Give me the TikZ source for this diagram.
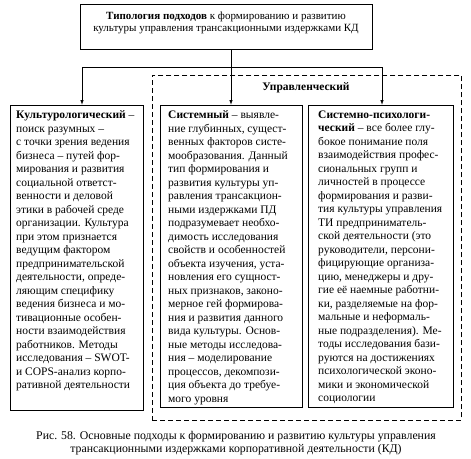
\documentclass[tikz,border=0pt]{standalone}
\usepackage{fontspec}
\setmainfont{Liberation Serif}
\usetikzlibrary{arrows.meta}
\begin{document}
\begin{tikzpicture}[x=1pt,y=-1pt,
  boxst/.style={draw, line width=0.8pt, inner sep=0pt, anchor=north west},
  txt/.style={inner sep=0pt, anchor=north west, align=left, font=\fontsize{11.5}{13.5}\selectfont},
  arr/.style={line width=0.8pt, -{Latex[length=5pt,width=3.5pt]}},
  conn/.style={line width=0.8pt},
  frame/.style={draw, line width=0.8pt, dash pattern=on 5pt off 3pt, inner sep=0pt, anchor=north west}]
\useasboundingbox (0,0) rectangle (471,458);
% boxes
\node[boxst, minimum width=292pt, minimum height=45pt] (top) at (80,4) {};
\node[frame, minimum width=309pt, minimum height=345pt] (mgmt) at (152,75) {};
\node[boxst, minimum width=133pt, minimum height=305pt] (lbox) at (9.5,105) {};
\node[boxst, minimum width=142pt, minimum height=302pt] (mbox) at (160,105) {};
\node[boxst, minimum width=145pt, minimum height=302pt] (rbox) at (308,105) {};
% texts
\node[align=center, inner sep=0pt, font=\fontsize{11}{12}\selectfont] (toptext) at (226,22.5)
  {\textbf{Типология подходов} к формированию и развитию\\культуры управления трансакционными издержками КД};
\node[inner sep=0pt, font=\bfseries\fontsize{11.5}{13}\selectfont] (mgmtlabel) at (306,88) {Управленческий};
\node[txt] (ltext) at (16,110.5) {\textbf{Культурологический} –\\
поиск разумных –\\
с точки зрения ведения\\
бизнеса – путей фор-\\
мирования и развития\\
социальной ответст-\\
венности и деловой\\
этики в рабочей среде\\
организации. Культура\\
при этом признается\\
ведущим фактором\\
предпринимательской\\
деятельности, опреде-\\
ляющим специфику\\
ведения бизнеса и мо-\\
тивационные особен-\\
ности взаимодействия\\
работников. Методы\\
исследования – SWOT-\\
и COPS-анализ корпо-\\
ративной деятельности};
\node[txt] (mtext) at (168,110.5) {\textbf{Системный} – выявле-\\
ние глубинных, сущест-\\
венных факторов систе-\\
мообразования. Данный\\
тип формирования и\\
развития культуры уп-\\
равления трансакцион-\\
ными издержками ПД\\
подразумевает необхо-\\
димость исследования\\
свойств и особенностей\\
объекта изучения, уста-\\
новления его сущност-\\
ных признаков, законо-\\
мерное гей формирова-\\
ния и развития данного\\
вида культуры. Основ-\\
ные методы исследова-\\
ния – моделирование\\
процессов, декомпози-\\
ция объекта до требуе-\\
мого уровня};
\node[txt] (rtext) at (318,110.5) {\textbf{Системно-психологи-}\\
\textbf{ческий} – все более глу-\\
бокое понимание поля\\
взаимодействия профес-\\
сиональных групп и\\
личностей в процессе\\
формирования и разви-\\
тия культуры управления\\
ТИ предприниматель-\\
ской деятельности (это\\
руководители, персони-\\
фицирующие организа-\\
цию, менеджеры и дру-\\
гие её наемные работни-\\
ки, разделяемые на фор-\\
мальные и неформаль-\\
ные подразделения). Ме-\\
тоды исследования бази-\\
руются на достижениях\\
психологической эконо-\\
мики и экономической\\
социологии};
\node[align=center, inner sep=0pt, font=\fontsize{11.8}{12.5}\selectfont] (cap) at (236,443)
  {Рис. 58. Основные подходы к формированию и развитию культуры управления\\трансакционными издержками корпоративной деятельности (КД)};
% connectors
\coordinate (j) at (231,67);
\coordinate (hl) at (82,67);
\coordinate (hr) at (382,67);
\draw[arr] (j |- top.south) -- (j |- mbox.north);
\draw[conn] (hl) -- (hr);
\draw[arr] (hl) -- (hl |- lbox.north);
\draw[arr] (hr) -- (hr |- rbox.north);
\end{tikzpicture}
\end{document}
